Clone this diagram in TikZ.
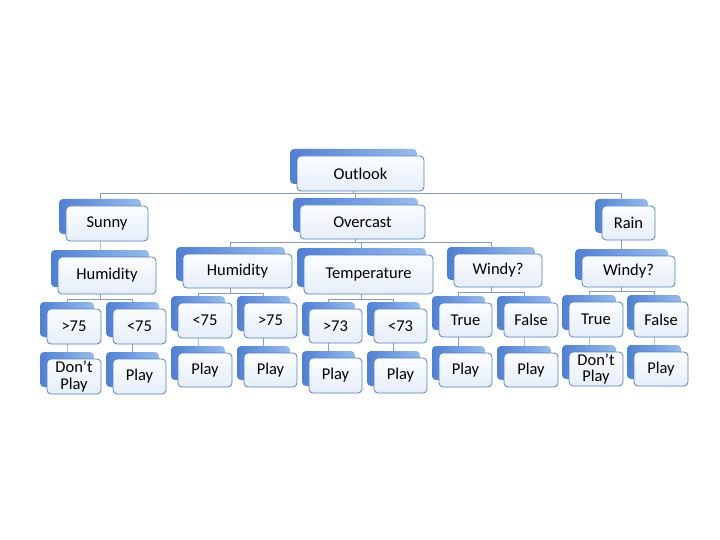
\documentclass[tikz,border=0pt]{standalone}
\usepackage{fontspec}
\setmainfont{Carlito}
\usetikzlibrary{backgrounds}
\definecolor{shL}{RGB}{78,128,214}
\definecolor{shR}{RGB}{150,188,238}
\definecolor{frT}{RGB}{251,253,255}
\definecolor{frB}{RGB}{230,238,249}
\definecolor{frD}{RGB}{84,128,196}
\definecolor{cn}{RGB}{130,155,195}
\tikzset{
  shadowbox/.style={rounded corners=4pt, left color=shL, right color=shR},
  frontbox/.style={draw=frD, line width=0.8pt, rounded corners=4pt, top color=frT, bottom color=frB,
    inner sep=0pt, align=center, font=\fontsize{16.5}{16.5}\selectfont},
  conn/.style={draw=cn, line width=1pt}
}
\newcommand\tb[6]{%
  \path[shadowbox] (#2-6,#3-6) rectangle (#4-6,#5-6);
  \node[frontbox, minimum width={(#4-#2)*1pt}, minimum height={(#5-#3)*1pt}] (#1) at ({(#2+#4)/2+1},{(#3+#5)/2+1}) {#6};}
\newcommand\cnx[3]{% parent, child, drop
  \draw[conn] ([xshift=-7pt]#1.south) -- ++(0,#3) -| ([xshift=-7pt]#2.north);}
\begin{document}
\begin{tikzpicture}[x=1pt,y=-1pt]
\useasboundingbox (0,0) rectangle (720,540);
\tb{outlook}{296}{155}{423}{190}{Outlook}
\tb{sunny}{65}{205}{147}{240}{Sunny}
\tb{overcast}{299}{204}{424}{238}{Overcast}
\tb{rain}{601}{205}{654}{239}{Rain}
\tb{humS}{57}{256}{155}{293}{Humidity}
\tb{humO}{182}{253}{291}{287}{Humidity}
\tb{temp}{303}{254}{432}{293}{Temperature}
\tb{windyO}{453}{253}{541}{286}{Windy?}
\tb{windyR}{581}{255}{674}{286}{Windy?}
\tb{gtS}{46}{308}{100}{343}{>75}
\tb{ltS}{112}{308}{165}{343}{<75}
\tb{dpS}{46}{358}{100}{393}{Don’t\\Play}
\tb{pS}{112}{358}{165}{393}{Play}
\tb{ltO}{177}{302}{231}{337}{<75}
\tb{gtO}{243}{302}{296}{337}{>75}
\tb{pa}{177}{352}{231}{386}{Play}
\tb{pb}{243}{352}{296}{386}{Play}
\tb{gtT}{308}{308}{361}{342}{>73}
\tb{ltT}{373}{308}{426}{342}{<73}
\tb{pc}{308}{357}{361}{392}{Play}
\tb{pd}{373}{357}{426}{392}{Play}
\tb{trO}{438}{302}{491}{336}{True}
\tb{faO}{503}{302}{557}{336}{False}
\tb{pe}{438}{352}{491}{386}{Play}
\tb{pf}{503}{352}{557}{386}{Play}
\tb{trR}{568}{301}{622}{336}{True}
\tb{faR}{633}{301}{687}{336}{False}
\tb{dpR}{568}{351}{622}{385}{Don’t\\Play}
\tb{pg}{633}{351}{687}{385}{Play}
\begin{scope}[on background layer]
\cnx{outlook}{sunny}{2}
\cnx{outlook}{overcast}{2}
\cnx{outlook}{rain}{2}
\cnx{sunny}{humS}{3}
\cnx{overcast}{humO}{3}
\cnx{overcast}{temp}{3}
\cnx{overcast}{windyO}{3}
\cnx{rain}{windyR}{3}
\cnx{humS}{gtS}{5}
\cnx{humS}{ltS}{5}
\cnx{humO}{ltO}{5}
\cnx{humO}{gtO}{5}
\cnx{temp}{gtT}{5}
\cnx{temp}{ltT}{5}
\cnx{windyO}{trO}{5}
\cnx{windyO}{faO}{5}
\cnx{windyR}{trR}{4}
\cnx{windyR}{faR}{4}
\cnx{gtS}{dpS}{5}
\cnx{ltS}{pS}{5}
\cnx{ltO}{pa}{5}
\cnx{gtO}{pb}{5}
\cnx{gtT}{pc}{5}
\cnx{ltT}{pd}{5}
\cnx{trO}{pe}{5}
\cnx{faO}{pf}{5}
\cnx{trR}{dpR}{5}
\cnx{faR}{pg}{5}
\end{scope}
\end{tikzpicture}
\end{document}
